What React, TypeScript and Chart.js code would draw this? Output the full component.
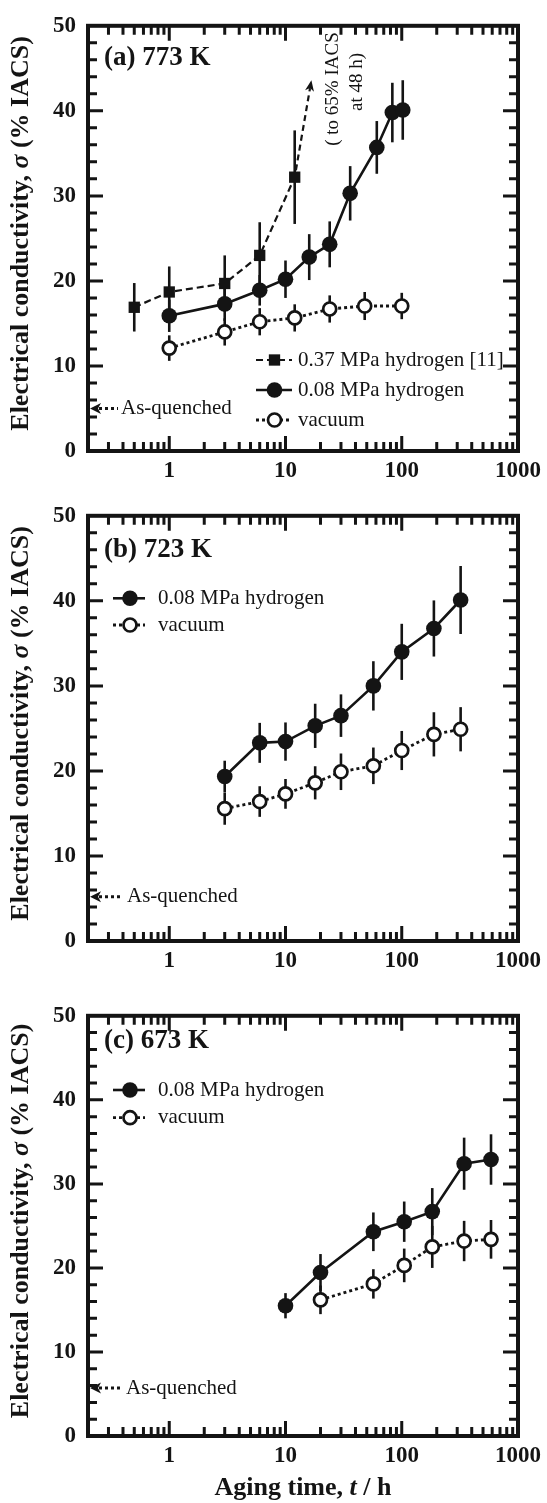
import React, { useEffect, useRef } from "react";
import { Chart, registerables } from "chart.js";

Chart.register(...registerables);

const FONT = "'Liberation Serif', 'Times New Roman', Times, serif";
const INK = "#141414";

// ---------- axis definitions ----------
const X_MIN = 0.2;
const X_MAX = 1000;
const X_TICKS = [1, 10, 100, 1000];
const X_TICK_LABELS = ["1", "10", "100", "1000"];
const Y_MIN = 0;
const Y_MAX = 50;
const Y_TICKS = [0, 10, 20, 30, 40, 50];
const Y_TICK_LABELS = ["0", "10", "20", "30", "40", "50"];

// ---------- panel (a) 773 K ----------
const A_H37_T = [0.5, 1, 3, 6, 12];
const A_H37_V = [16.9, 18.7, 19.7, 23.0, 32.2];
const A_H37_E = [2.85, 3.0, 3.3, 3.9, 5.5];

const A_H08_T = [1, 3, 6, 10, 16, 24, 36, 61, 83, 102];
const A_H08_V = [15.9, 17.3, 18.9, 20.2, 22.8, 24.3, 30.3, 35.7, 39.8, 40.1];
const A_H08_E = [1.9, 2.0, 1.8, 2.2, 2.7, 2.7, 3.2, 3.1, 3.5, 3.5];

const A_VAC_T = [1, 3, 6, 12, 24, 48, 100];
const A_VAC_V = [12.1, 14.0, 15.2, 15.65, 16.7, 17.05, 17.05];
const A_VAC_E = [1.5, 1.6, 1.6, 1.6, 1.6, 1.65, 1.55];

const A_ARROW_FROM = [12, 32.2];
const A_ARROW_TO = [16.7, 43.6];

// ---------- panel (b) 723 K ----------
const B_H08_T = [3, 6, 10, 18, 30, 57, 100, 189, 321];
const B_H08_V = [19.35, 23.3, 23.45, 25.3, 26.5, 30.0, 34.0, 36.75, 40.1];
const B_H08_E = [1.85, 2.35, 2.25, 2.6, 2.5, 2.9, 3.3, 3.3, 4.0];

const B_VAC_T = [3, 6, 10, 18, 30, 57, 100, 189, 321];
const B_VAC_V = [15.57, 16.4, 17.3, 18.6, 19.9, 20.6, 22.4, 24.3, 24.9];
const B_VAC_E = [1.9, 1.8, 1.75, 1.95, 2.15, 2.15, 2.3, 2.6, 2.6];

// ---------- panel (c) 673 K ----------
const C_H08_T = [10, 20, 57, 105, 183, 344, 586];
const C_H08_V = [15.5, 19.45, 24.3, 25.5, 26.7, 32.4, 32.9];
const C_H08_E = [1.5, 2.2, 2.3, 2.4, 2.8, 3.1, 3.0];

const C_VAC_T = [20, 57, 105, 183, 344, 586];
const C_VAC_V = [16.2, 18.1, 20.3, 22.5, 23.2, 23.4];
const C_VAC_E = [1.7, 1.75, 2.0, 2.5, 2.4, 2.3];

// as-quenched level per panel (a, b, c)
const AS_QUENCHED = [5.0, 5.2, 5.7];

const LABEL_H37 = "0.37 MPa hydrogen [11]";
const LABEL_H08 = "0.08 MPa hydrogen";
const LABEL_VAC = "vacuum";

type Kind = "square" | "filled" | "open";
type Series = { t: number[]; v: number[]; e: number[]; kind: Kind; label: string };

type PanelDef = {
  canvasTop: number;
  canvasH: number;
  top: number;
  bottom: number;
  label: string;
  labelBaseline: number;
  series: Series[];
  legendRows: number[];
  legendLine: [number, number];
  legendMarker: number;
  legendText: number;
  aq: number;
  aqDotsEnd: number;
  aqText: number;
  arrow: boolean;
  xTitle: boolean;
};

const PANELS: PanelDef[] = [
  {
    canvasTop: 0,
    canvasH: 490,
    top: 18,
    bottom: 451,
    label: "(a) 773 K",
    labelBaseline: 65,
    series: [
      { t: A_H08_T, v: A_H08_V, e: A_H08_E, kind: "filled", label: LABEL_H08 },
      { t: A_H37_T, v: A_H37_V, e: A_H37_E, kind: "square", label: LABEL_H37 },
      { t: A_VAC_T, v: A_VAC_V, e: A_VAC_E, kind: "open", label: LABEL_VAC },
    ],
    legendRows: [360, 390, 420],
    legendLine: [256, 292],
    legendMarker: 274.5,
    legendText: 298,
    aq: AS_QUENCHED[0],
    aqDotsEnd: 118,
    aqText: 121,
    arrow: true,
    xTitle: false,
  },
  {
    canvasTop: 490,
    canvasH: 500,
    top: 18,
    bottom: 451,
    label: "(b) 723 K",
    labelBaseline: 66.5,
    series: [
      { t: B_H08_T, v: B_H08_V, e: B_H08_E, kind: "filled", label: LABEL_H08 },
      { t: B_VAC_T, v: B_VAC_V, e: B_VAC_E, kind: "open", label: LABEL_VAC },
    ],
    legendRows: [108.3, 135],
    legendLine: [113, 145],
    legendMarker: 130,
    legendText: 158,
    aq: AS_QUENCHED[1],
    aqDotsEnd: 122,
    aqText: 127,
    arrow: false,
    xTitle: false,
  },
  {
    canvasTop: 990,
    canvasH: 513,
    top: 15,
    bottom: 446,
    label: "(c) 673 K",
    labelBaseline: 58,
    series: [
      { t: C_H08_T, v: C_H08_V, e: C_H08_E, kind: "filled", label: LABEL_H08 },
      { t: C_VAC_T, v: C_VAC_V, e: C_VAC_E, kind: "open", label: LABEL_VAC },
    ],
    legendRows: [100, 127.7],
    legendLine: [113, 145],
    legendMarker: 130,
    legendText: 158,
    aq: AS_QUENCHED[2],
    aqDotsEnd: 120,
    aqText: 126,
    arrow: false,
    xTitle: true,
  },
];

const STYLE: Record<Kind, any> = {
  square: { dash: [7, 4], width: 2.2, pointStyle: "rect", radius: 8, bg: INK, bw: 0 },
  filled: { dash: [], width: 2.6, pointStyle: "circle", radius: 7.8, bg: INK, bw: 0 },
  open: { dash: [3, 3], width: 2.8, pointStyle: "circle", radius: 6.5, bg: "#ffffff", bw: 2.7 },
};

const X_AXIS_H = 36;
const Y_AXIS_W = 88;
const RIGHT_PAD = 25;

function drawRich(ctx: CanvasRenderingContext2D, parts: { text: string; font: string }[], x: number, y: number) {
  const widths = parts.map((p) => {
    ctx.font = p.font;
    return ctx.measureText(p.text).width;
  });
  const total = widths.reduce((a, b) => a + b, 0);
  let cx = x - total / 2;
  ctx.textAlign = "left";
  parts.forEach((p, i) => {
    ctx.font = p.font;
    ctx.fillText(p.text, cx, y);
    cx += widths[i];
  });
}

function drawMarker(ctx: CanvasRenderingContext2D, kind: Kind, x: number, y: number) {
  const st = STYLE[kind];
  ctx.save();
  ctx.setLineDash([]);
  if (kind === "square") {
    const s = st.radius * Math.SQRT1_2;
    ctx.fillStyle = INK;
    ctx.fillRect(x - s, y - s, 2 * s, 2 * s);
  } else {
    ctx.beginPath();
    ctx.arc(x, y, st.radius, 0, Math.PI * 2);
    ctx.fillStyle = st.bg;
    ctx.fill();
    if (st.bw > 0) {
      ctx.lineWidth = st.bw;
      ctx.strokeStyle = INK;
      ctx.stroke();
    }
  }
  ctx.restore();
}

function makePlugin(p: PanelDef) {
  return {
    id: "panelDeco",
    beforeDatasetsDraw(chart: any) {
      const { ctx } = chart;
      const xs = chart.scales.x;
      const ys = chart.scales.y;
      ctx.save();
      ctx.strokeStyle = INK;
      ctx.lineWidth = 2.6;
      p.series.forEach((s) => {
        s.t.forEach((t, i) => {
          const x = xs.getPixelForValue(t);
          ctx.beginPath();
          ctx.moveTo(x, ys.getPixelForValue(s.v[i] - s.e[i]));
          ctx.lineTo(x, ys.getPixelForValue(s.v[i] + s.e[i]));
          ctx.stroke();
        });
      });
      ctx.restore();
    },
    afterDatasetsDraw(chart: any) {
      if (!p.arrow) return;
      const { ctx } = chart;
      const xs = chart.scales.x;
      const ys = chart.scales.y;
      const x0 = xs.getPixelForValue(A_ARROW_FROM[0]);
      const y0 = ys.getPixelForValue(A_ARROW_FROM[1]);
      const x1 = xs.getPixelForValue(A_ARROW_TO[0]);
      const y1 = ys.getPixelForValue(A_ARROW_TO[1]);
      const dx = x1 - x0;
      const dy = y1 - y0;
      const len = Math.hypot(dx, dy);
      const ux = dx / len;
      const uy = dy / len;
      ctx.save();
      ctx.strokeStyle = INK;
      ctx.fillStyle = INK;
      ctx.lineWidth = 2.2;
      ctx.setLineDash([6, 4]);
      ctx.beginPath();
      ctx.moveTo(x0 + ux * 7, y0 + uy * 7);
      ctx.lineTo(x1 - ux * 8, y1 - uy * 8);
      ctx.stroke();
      ctx.setLineDash([]);
      ctx.beginPath();
      ctx.moveTo(x1, y1);
      ctx.lineTo(x1 - ux * 11 - uy * 4.5, y1 - uy * 11 + ux * 4.5);
      ctx.lineTo(x1 - ux * 8, y1 - uy * 8);
      ctx.lineTo(x1 - ux * 11 + uy * 4.5, y1 - uy * 11 - ux * 4.5);
      ctx.closePath();
      ctx.fill();
      // rotated note
      ctx.font = `19px ${FONT}`;
      ctx.textAlign = "center";
      ctx.textBaseline = "alphabetic";
      ctx.save();
      ctx.translate(338, 89);
      ctx.rotate(-Math.PI / 2);
      ctx.fillText("( to 65% IACS", 0, 0);
      ctx.restore();
      ctx.save();
      ctx.translate(362, 82);
      ctx.rotate(-Math.PI / 2);
      ctx.fillText("at 48 h)", 0, 0);
      ctx.restore();
      ctx.restore();
    },
    afterDraw(chart: any) {
      const { ctx, chartArea } = chart;
      const { left, right, top, bottom } = chartArea;
      const xs = chart.scales.x;
      const ys = chart.scales.y;
      ctx.save();
      ctx.strokeStyle = INK;
      ctx.fillStyle = INK;
      // ticks
      ctx.lineWidth = 3;
      for (let v = Y_MIN; v <= Y_MAX; v += 2) {
        if (v === Y_MIN || v === Y_MAX) continue;
        const y = ys.getPixelForValue(v);
        const L = v % 10 === 0 ? 15 : 9;
        ctx.beginPath();
        ctx.moveTo(left, y);
        ctx.lineTo(left + L, y);
        ctx.moveTo(right, y);
        ctx.lineTo(right - L, y);
        ctx.stroke();
      }
      for (let d = 0.1; d < X_MAX; d *= 10) {
        for (let k = 1; k <= 9; k++) {
          const v = Math.round(k * d * 1000) / 1000;
          if (v <= X_MIN || v >= X_MAX) continue;
          const x = xs.getPixelForValue(v);
          const L = k === 1 ? 15 : 9;
          ctx.beginPath();
          ctx.moveTo(x, bottom);
          ctx.lineTo(x, bottom - L);
          ctx.moveTo(x, top);
          ctx.lineTo(x, top + L);
          ctx.stroke();
        }
      }
      // frame
      ctx.lineWidth = 4;
      ctx.strokeRect(left, top, right - left, bottom - top);

      // panel label
      ctx.font = `bold 27px ${FONT}`;
      ctx.textAlign = "left";
      ctx.textBaseline = "alphabetic";
      ctx.fillText(p.label, 104, p.labelBaseline);

      // legend
      const legendSeries =
        p.series.length === 3 ? [p.series[1], p.series[0], p.series[2]] : p.series;
      legendSeries.forEach((s, i) => {
        const y = p.legendRows[i];
        const st = STYLE[s.kind];
        ctx.save();
        ctx.lineWidth = st.width;
        ctx.setLineDash(st.dash);
        ctx.beginPath();
        ctx.moveTo(p.legendLine[0], y);
        ctx.lineTo(p.legendLine[1], y);
        ctx.stroke();
        ctx.restore();
        drawMarker(ctx, s.kind, p.legendMarker, y);
        ctx.font = `21px ${FONT}`;
        ctx.textAlign = "left";
        ctx.textBaseline = "middle";
        ctx.fillText(s.label, p.legendText, y);
      });

      // as-quenched arrow
      const ay = ys.getPixelForValue(p.aq);
      const tip = left + 2;
      ctx.beginPath();
      ctx.moveTo(tip, ay);
      ctx.lineTo(tip + 11, ay - 5.5);
      ctx.lineTo(tip + 8, ay);
      ctx.lineTo(tip + 11, ay + 5.5);
      ctx.closePath();
      ctx.fill();
      ctx.save();
      ctx.lineWidth = 3;
      ctx.setLineDash([3, 3]);
      ctx.beginPath();
      ctx.moveTo(tip + 9, ay);
      ctx.lineTo(p.aqDotsEnd, ay);
      ctx.stroke();
      ctx.restore();
      ctx.font = `21px ${FONT}`;
      ctx.textAlign = "left";
      ctx.textBaseline = "middle";
      ctx.fillText("As-quenched", p.aqText, ay);

      // y title
      ctx.save();
      ctx.translate(21, (top + bottom) / 2 - 5);
      ctx.rotate(-Math.PI / 2);
      ctx.textBaseline = "middle";
      drawRich(
        ctx,
        [
          { text: "Electrical conductivity, ", font: `bold 26px ${FONT}` },
          { text: "σ", font: `italic bold 26px ${FONT}` },
          { text: " (% IACS)", font: `bold 26px ${FONT}` },
        ],
        0,
        0
      );
      ctx.restore();

      // x title
      if (p.xTitle) {
        ctx.textBaseline = "middle";
        drawRich(
          ctx,
          [
            { text: "Aging time, ", font: `bold 26px ${FONT}` },
            { text: "t", font: `italic bold 26px ${FONT}` },
            { text: " / h", font: `bold 26px ${FONT}` },
          ],
          (left + right) / 2,
          498
        );
      }
      ctx.restore();
    },
  };
}

function buildConfig(p: PanelDef): any {
  const datasets = p.series.map((s) => {
    const st = STYLE[s.kind];
    return {
      label: s.label,
      data: s.t.map((t, i) => ({ x: t, y: s.v[i] })),
      borderColor: INK,
      borderWidth: st.width,
      borderDash: st.dash,
      borderCapStyle: "butt",
      pointStyle: st.pointStyle,
      pointRadius: st.radius,
      pointBackgroundColor: st.bg,
      pointBorderColor: INK,
      pointBorderWidth: st.bw,
      tension: 0,
      fill: false,
      showLine: true,
      clip: false,
    };
  });
  const tickFont = { family: FONT, size: 23, weight: "bold" as const };
  return {
    type: "line",
    data: { datasets },
    options: {
      responsive: false,
      maintainAspectRatio: false,
      animation: false,
      devicePixelRatio: 1,
      layout: {
        padding: {
          left: 0,
          right: RIGHT_PAD,
          top: p.top,
          bottom: p.canvasH - X_AXIS_H - p.bottom,
        },
      },
      plugins: { legend: { display: false }, tooltip: { enabled: false } },
      scales: {
        x: {
          type: "logarithmic",
          position: "bottom",
          min: X_MIN,
          max: X_MAX,
          grid: { display: false, drawTicks: false },
          border: { display: false },
          afterBuildTicks: (s: any) => {
            s.ticks = X_TICKS.map((v) => ({ value: v }));
          },
          afterFit: (s: any) => {
            s.height = X_AXIS_H;
          },
          ticks: {
            autoSkip: false,
            maxRotation: 0,
            minRotation: 0,
            padding: 6,
            color: INK,
            font: tickFont,
            callback: (_v: any, i: number) => X_TICK_LABELS[i],
          },
        },
        y: {
          type: "linear",
          min: Y_MIN,
          max: Y_MAX,
          grid: { display: false, drawTicks: false },
          border: { display: false },
          afterBuildTicks: (s: any) => {
            s.ticks = Y_TICKS.map((v) => ({ value: v }));
          },
          afterFit: (s: any) => {
            s.width = Y_AXIS_W;
          },
          ticks: {
            padding: 12,
            color: INK,
            font: tickFont,
            callback: (_v: any, i: number) => Y_TICK_LABELS[i],
          },
        },
      },
    },
    plugins: [makePlugin(p)],
  };
}

function Panel({ p }: { p: PanelDef }) {
  const ref = useRef<HTMLCanvasElement | null>(null);
  useEffect(() => {
    if (!ref.current) return;
    const chart = new Chart(ref.current, buildConfig(p));
    return () => chart.destroy();
  }, [p]);
  return (
    <canvas
      ref={ref}
      width={547}
      height={p.canvasH}
      style={{ position: "absolute", left: 0, top: p.canvasTop, width: 547, height: p.canvasH, display: "block" }}
    />
  );
}

export default function App() {
  return (
    <div style={{ position: "absolute", left: 0, top: 0, width: 547, height: 1503, background: "#ffffff" }}>
      {PANELS.map((p, i) => (
        <Panel key={i} p={p} />
      ))}
    </div>
  );
}
